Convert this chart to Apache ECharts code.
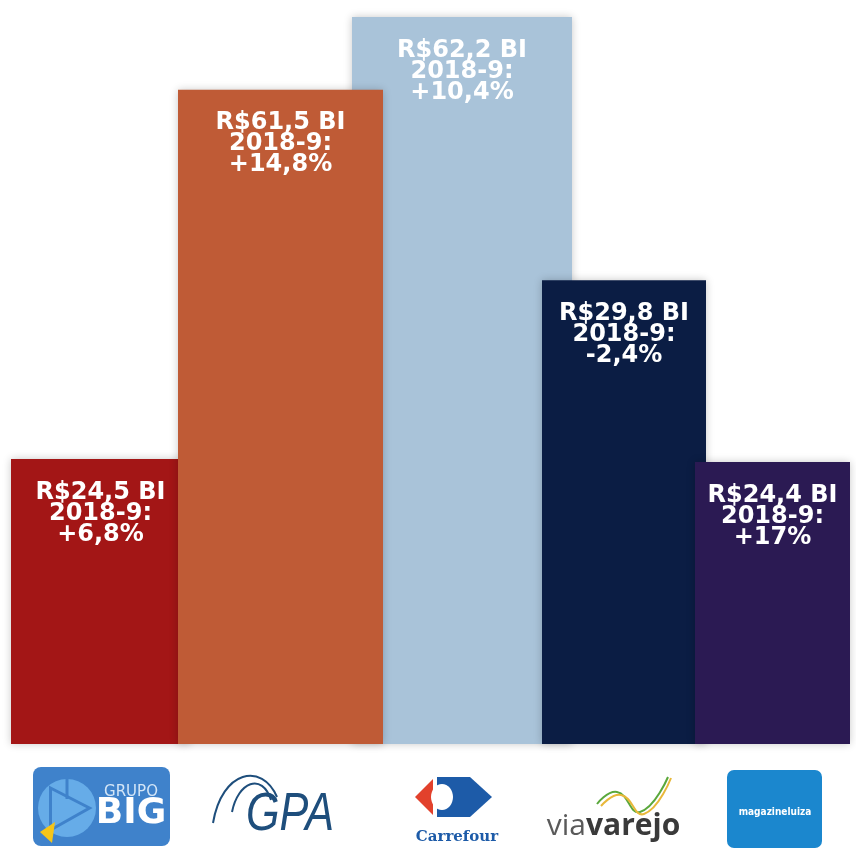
<!DOCTYPE html>
<html>
<head>
<meta charset="utf-8">
<script src="https://cdn.jsdelivr.net/npm/echarts@6/dist/echarts.min.js"></script>
<style>
html,body{margin:0;padding:0;background:#fff;}
#chart{width:856px;height:866px;}
</style>
</head>
<body>
<div id="chart"></div>
<script>
// Companies (shown as logos under the columns)
const companies = ['Grupo BIG', 'GPA', 'Carrefour', 'Via Varejo', 'Magazine Luiza'];
// Revenue, R$ billions (column labels)
const revenue = [24.5, 61.5, 62.2, 29.8, 24.4];
// Growth 2018-9, %
const growth = [6.8, 14.8, 10.4, -2.4, 17];
// Drawn column height in the infographic (% of tallest column; not to scale with revenue)
const columnHeight = [39.2, 90.0, 100, 63.8, 38.8];

const colors = ['#A31616', '#BF5B36', '#A9C3D9', '#0B1D44', '#2B1A53'];
// per-column layout: horizontal shift from band centre, width, stacking order
const layout = [
  {dx: 5.6, w: 179, z: 1},
  {dx: 17.8, w: 205, z: 2},
  {dx: 31.5, w: 220, z: 0},
  {dx: 25.7, w: 164, z: 1},
  {dx: 6.4, w: 155, z: 2}
];

function fmt(v) { return String(v).replace('.', ','); }
function labelText(i) {
  const g = growth[i];
  return 'R$' + revenue[i].toFixed(1).replace('.', ',') + ' BI\n2018-9:\n' + (g > 0 ? '+' : '') + fmt(g) + '%';
}

function P(cx, by, pts) { return pts.map(p => [cx + p[0], by + p[1]]); }

function logo(i, cx, by) {
  const els = [];
  if (i === 0) {
    els.push({type: 'rect', shape: {x: cx - 67.5, y: by + 23, width: 137, height: 79, r: 8}, style: {fill: '#3F82CB'}, z2: 5});
    els.push({type: 'circle', shape: {cx: cx - 33.5, cy: by + 64, r: 29}, style: {fill: '#66ACE8'}, z2: 6});
    els.push({type: 'polygon', shape: {points: P(cx, by, [[-50, 44], [-11, 64], [-50, 86]])}, style: {fill: 'none', stroke: '#3F82CB', lineWidth: 3}, z2: 7});
    els.push({type: 'line', shape: {x1: cx - 33.5, y1: by + 35, x2: cx - 33.5, y2: by + 55}, style: {stroke: '#3F82CB', lineWidth: 3}, z2: 7});
    els.push({type: 'polygon', shape: {points: P(cx, by, [[-60.5, 88], [-45.5, 78], [-48.5, 99]])}, style: {fill: '#F5C518'}, z2: 8});
    els.push({type: 'text', style: {text: 'GRUPO', x: cx + 30.5, y: by + 48, font: '15px "DejaVu Sans"', fill: '#D4E6F7', align: 'center', verticalAlign: 'middle'}, z2: 8});
    els.push({type: 'text', style: {text: 'BIG', x: cx + 30.5, y: by + 70, font: 'bold 36px "DejaVu Sans"', fill: '#ffffff', align: 'center', verticalAlign: 'middle'}, z2: 8});
  } else if (i === 1) {
    els.push({type: 'text', x: cx + 9.5, y: by + 71, scaleX: 0.8, style: {text: 'GPA', x: 0, y: 0, font: 'italic 54px "Liberation Sans", sans-serif', fill: '#1E4E7C', align: 'center', verticalAlign: 'middle'}, z2: 8});
    els.push({type: 'bezierCurve', shape: {x1: cx - 67.5, y1: by + 79, cpx1: cx - 58.5, cpy1: by + 26, cpx2: cx - 18.5, cpy2: by + 18, x2: cx - 3.5, y2: by + 53}, style: {fill: 'none', stroke: '#1E4E7C', lineWidth: 2}, z2: 8});
    els.push({type: 'bezierCurve', shape: {x1: cx - 48.5, y1: by + 68, cpx1: cx - 42.5, cpy1: by + 38, cpx2: cx - 18.5, cpy2: by + 28, x2: cx - 9.5, y2: by + 56}, style: {fill: 'none', stroke: '#1E4E7C', lineWidth: 2}, z2: 8});
  } else if (i === 2) {
    els.push({type: 'polygon', shape: {points: P(cx, by, [[-29, 35], [-47, 53], [-29, 71]])}, style: {fill: '#E2412C'}, z2: 6});
    els.push({type: 'polygon', shape: {points: P(cx, by, [[-25, 33], [8, 33], [30, 53], [8, 73], [-25, 73]])}, style: {fill: '#1D5BA8'}, z2: 6});
    els.push({type: 'ellipse', shape: {cx: cx - 20, cy: by + 53, rx: 11, ry: 13}, style: {fill: '#ffffff'}, z2: 7});
    els.push({type: 'text', style: {text: 'Carrefour', x: cx - 5, y: by + 93, font: 'bold 15px "DejaVu Serif"', fill: '#1D5BA8', align: 'center', verticalAlign: 'middle'}, z2: 8});
  } else if (i === 3) {
    els.push({type: 'polyline', shape: {points: P(cx, by, [[-27, 60], [-7, 48], [16, 68], [44, 33]]), smooth: 0.5}, style: {fill: 'none', stroke: '#5AA83C', lineWidth: 2}, z2: 8});
    els.push({type: 'polyline', shape: {points: P(cx, by, [[-23, 62], [-3, 51], [20, 70], [47, 34]]), smooth: 0.5}, style: {fill: 'none', stroke: '#E8B83A', lineWidth: 2}, z2: 8});
    els.push({type: 'text', style: {text: '{a|via}{b|varejo}', x: cx - 10.5, y: by + 82, align: 'center', verticalAlign: 'middle',
      rich: {a: {fontSize: 30, fontFamily: 'Open Sans', fontWeight: 'normal', fill: '#5a5a5a'}, b: {fontSize: 30, fontFamily: 'Open Sans', fontWeight: 'bold', fill: '#3a3a3a'}}}, z2: 8});
  } else {
    els.push({type: 'rect', shape: {x: cx - 45.5, y: by + 26, width: 95, height: 78, r: 7}, style: {fill: '#1B87CE'}, z2: 6});
    els.push({type: 'text', style: {text: 'magazineluiza', x: cx + 2.5, y: by + 68, font: 'bold 10px "DejaVu Sans Condensed"', fill: '#ffffff', align: 'center', verticalAlign: 'middle'}, z2: 8});
  }
  return els;
}

const chart = echarts.init(document.getElementById('chart'));
chart.setOption({
  backgroundColor: '#ffffff',
  animation: false,
  grid: {left: 11, right: 6, top: 17, bottom: 122},
  xAxis: {type: 'category', data: companies, show: false},
  yAxis: {type: 'value', min: 0, max: 100, show: false},
  series: [{
    type: 'custom',
    clip: false,
    data: columnHeight.map((h, i) => [i, h]),
    renderItem: function (params, api) {
      const i = params.dataIndex;
      const L = layout[i];
      const base = api.coord([api.value(0), 0]);
      const top = api.coord([api.value(0), api.value(1)]);
      const cx = base[0] + L.dx;
      const children = [{
        type: 'rect',
        shape: {x: cx - L.w / 2, y: top[1], width: L.w, height: base[1] - top[1]},
        style: {fill: colors[i], shadowBlur: 8, shadowColor: 'rgba(0,0,0,0.22)'},
        z2: L.z
      }, {
        type: 'text',
        style: {text: labelText(i), x: cx, y: top[1] + 23, fill: '#ffffff', font: 'bold 24px "DejaVu Sans"', lineHeight: 21, align: 'center', verticalAlign: 'top'},
        z2: 10
      }];
      return {type: 'group', children: children.concat(logo(i, cx, base[1]))};
    }
  }]
});
</script>
</body>
</html>
